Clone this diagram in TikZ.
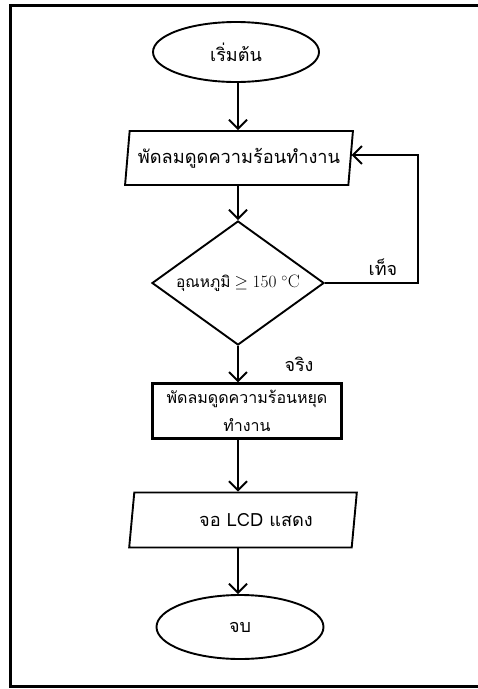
\documentclass[tikz,border=0pt]{standalone}
\usepackage{fontspec}
\newfontfamily\thai[Script=Thai]{Loma}
\usetikzlibrary{shapes.geometric,arrows.meta}
\begin{document}
\begin{tikzpicture}[x=1pt,y=-1pt,
  line width=1.9pt,
  arr/.style={-{Straight Barb[length=9pt,width=18pt,line width=1.9pt]}},
  ell/.style={ellipse,draw,line width=1.9pt,minimum width=166pt,minimum height=60pt,inner sep=0pt,font=\thai\fontsize{18}{22}\selectfont},
  para/.style={trapezium,draw,line width=1.9pt,trapezium stretches=true,trapezium left angle=78,trapezium right angle=102,minimum width=228pt,minimum height=54pt,inner sep=0pt,font=\thai\fontsize{18.2}{22}\selectfont},
  dia/.style={diamond,draw,line width=1.9pt,aspect=1.38,minimum width=172pt,minimum height=124pt,inner sep=0pt},
  box/.style={rectangle,draw,line width=2.2pt,minimum width=189pt,minimum height=55pt,inner sep=0pt,align=center,font=\thai\fontsize{16}{28}\selectfont},
  lbl/.style={font=\thai\fontsize{18}{22}\selectfont}]
\clip (0,0) rectangle (478,689);
\draw[line width=3pt] (10,5) rectangle (500,686);
\node[ell] (start) at (236,52) {เริ่มต้น};
\node[para] (p1) at (239,158) {พัดลมดูดความร้อนทำงาน};
\node[dia] (dec) at (238,283) {{\thai\fontsize{15.5}{16}\selectfont อุณหภูมิ}\hspace{4pt}{\fontsize{18}{20}\selectfont$\geq 150\;{}^{\circ}\mathrm{C}$}};
\node[box] (r1) at (247,411) {พัดลมดูดความร้อนหยุด\\ทำงาน};
\node[para,trapezium left angle=76,trapezium right angle=104,minimum height=55pt] (p2) at (243,520) {\hspace*{26pt}จอ LCD แสดง};
\node[ell,minimum width=167pt,minimum height=64pt] (end) at (240,627) {จบ};
\node[lbl] (f) at (383,267) {เท็จ};
\node[lbl] (t) at (299,364) {จริง};
\coordinate (c1) at (418,283);
\coordinate (c2) at (418,155);
\draw[arr] (start.south -| dec.north) -- (p1.north -| dec.north);
\draw[arr] (p1.south -| dec.north) -- (dec.north);
\draw[arr] (dec.south) -- (r1.north -| dec.south);
\draw[arr] (r1.south -| dec.south) -- (p2.north -| dec.south);
\draw[arr] (p2.south -| dec.south) -- (end.north -| dec.south);
\draw[arr] (dec.east) -- (c1) -- (c2) -- (c2 -| p1.east);
\end{tikzpicture}
\end{document}
